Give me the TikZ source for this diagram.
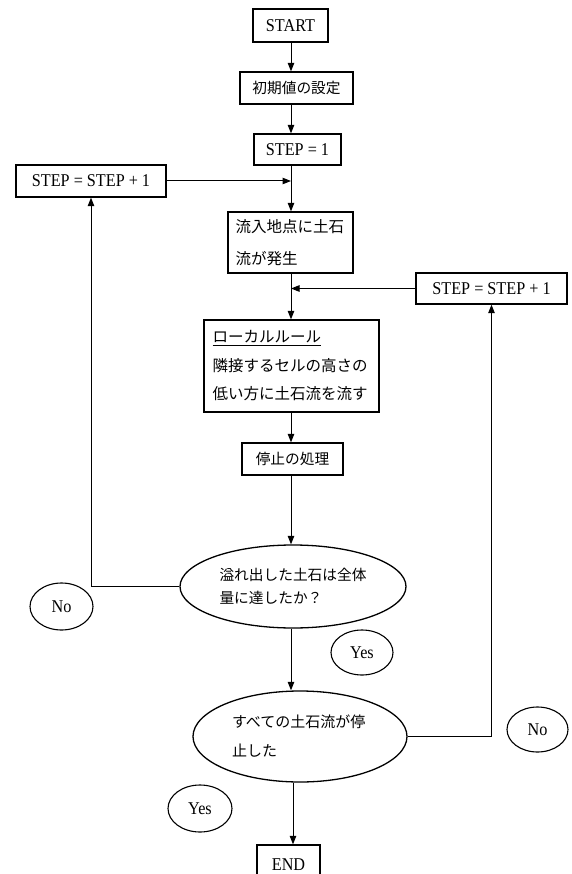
\documentclass[tikz,border=0pt]{standalone}
\usepackage{fontspec}
\setmainfont[FakeStretch=0.9]{Liberation Serif}
\newfontfamily\jp{Noto Sans CJK JP}
\usetikzlibrary{shapes.geometric,arrows.meta}
\begin{document}
\begin{tikzpicture}[x=1pt,y=-1pt,line width=1pt,
  box/.style={draw,rectangle,inner sep=0pt,line width=1.3pt},
  dec/.style={draw,ellipse,inner sep=0pt,line width=1.3pt},
  tag/.style={draw,ellipse,inner sep=0pt,line width=1.1pt},
  arr/.style={-{Triangle[length=8.5pt,width=6.5pt]}},
  lat/.style={font=\fontsize{18}{20}\selectfont},
  jps/.style={font=\jp\fontsize{14.7}{18}\selectfont},
]
\useasboundingbox (0,0) rectangle (571,874);
\clip (0,0) rectangle (571,874);
\fill[white] (0,0) rectangle (571,874);
\coordinate (spine) at (291,0);
\coordinate (endx) at (293,0);

\node[box,lat,minimum width=75pt,minimum height=33pt] (start) at (290.5,25.5) {START};
\node[box,jps,minimum width=113pt,minimum height=32pt] (init) at (296.5,88) {初期値の設定};
\node[box,lat,minimum width=87pt,minimum height=31pt] (step1) at (297.5,149.5) {STEP = 1};
\node[box,lat,minimum width=150pt,minimum height=32pt] (stepL) at (91,181) {STEP = STEP + 1};
\node[box,font=\jp\fontsize{15.5}{32}\selectfont,align=left,text width=110pt,minimum width=125pt,minimum height=61pt] (inflow) at (290.5,242.5) {流入地点に土石\\流が発生};
\node[box,lat,minimum width=151pt,minimum height=31pt] (stepR) at (491.5,288.5) {STEP = STEP + 1};
\node[box,font=\jp\fontsize{15.5}{28.5}\selectfont,align=left,text width=158pt,minimum width=175pt,minimum height=92pt] (local) at (291.5,366) {\underline{ローカルルール}\\隣接するセルの高さの\\低い方に土石流を流す};
\node[box,jps,minimum width=101pt,minimum height=32pt] (stop) at (292.5,459) {停止の処理};
\node[dec,font=\jp\fontsize{14.7}{23}\selectfont,align=left,minimum width=226pt,minimum height=83pt] (dec1) at (293,586.5) {溢れ出した土石は全体\\量に達したか？};
\node[tag,lat,minimum width=63pt,minimum height=47pt] (noL) at (61.5,606.5) {No};
\node[tag,lat,minimum width=62pt,minimum height=45pt] (yes1) at (362,652.5) {Yes};
\node[dec,font=\jp\fontsize{15}{29}\selectfont,align=left,text width=136pt,minimum width=214pt,minimum height=91pt] (dec2) at (300,736.5) {すべての土石流が停\\止した};
\node[tag,lat,minimum width=61pt,minimum height=45pt] (noR) at (537.5,729.5) {No};
\node[tag,lat,minimum width=64pt,minimum height=47pt] (yes2) at (200,808.5) {Yes};
\node[box,lat,minimum width=63pt,minimum height=40pt] (end) at (288.5,865) {END};

\draw[arr] (start.south -| spine) -- (init.north -| spine);
\draw[arr] (init.south -| spine) -- (step1.north -| spine);
\draw[arr] (step1.south -| spine) -- (inflow.north -| spine);
\draw[arr] (stepL.east) -- (stepL.east -| spine);
\draw[arr] (inflow.south -| spine) -- (local.north -| spine);
\draw[arr] (stepR.west) -- (stepR.west -| spine);
\draw[arr] (local.south -| spine) -- (stop.north -| spine);
\draw[arr] (stop.south -| spine) -- (dec1.north -| spine);
\draw[arr] (dec1.west) -| (stepL.south);
\draw[arr] (dec1.south -| spine) -- (dec2.north -| spine);
\draw[arr] (dec2.east) -| (stepR.south);
\draw[arr] (dec2.south -| endx) -- (end.north -| endx);
\end{tikzpicture}
\end{document}
